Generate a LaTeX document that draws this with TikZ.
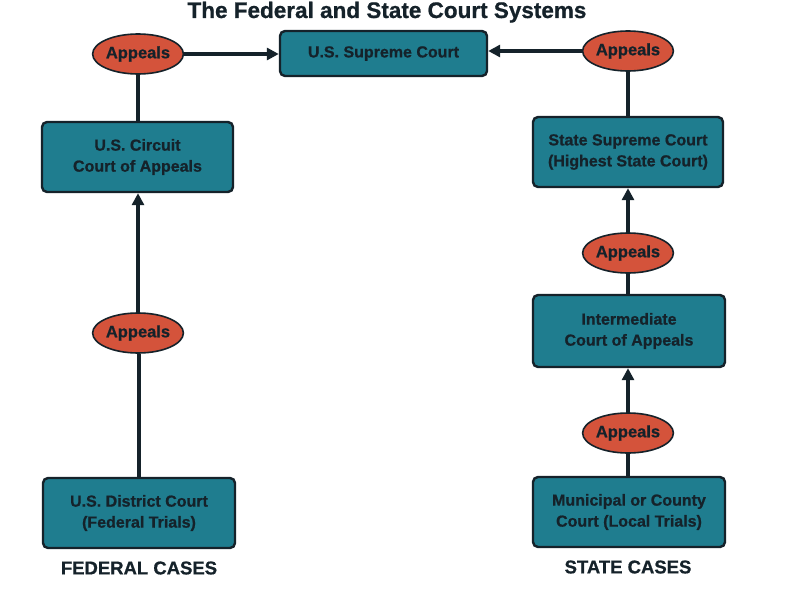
\documentclass[tikz,border=0pt]{standalone}
\usepackage{fontspec}
\setmainfont{Liberation Sans}[BoldFeatures={FakeBold=0.8}]
\usetikzlibrary{arrows.meta,shapes.geometric}
\definecolor{boxfill}{HTML}{1F7D8F}
\definecolor{ovalfill}{HTML}{D4533B}
\definecolor{ink}{HTML}{15222A}
\tikzset{
  court/.style={draw=ink, line width=2.4pt, fill=boxfill, rounded corners=5pt, align=center,
    inner sep=0pt, text=ink, font=\fontsize{16}{21}\selectfont\bfseries},
  appeal/.style={ellipse, draw=ink, line width=1.6pt, fill=ovalfill, inner sep=0pt,
    minimum width=82pt, minimum height=40pt, text=ink, font=\fontsize{16.5}{20}\selectfont\bfseries},
  link/.style={draw=ink, line width=3.5pt},
  arr/.style={link, -{Triangle[length=12pt,width=12pt]}},
  caption/.style={text=ink, font=\fontsize{18.5}{22}\selectfont\bfseries}
}
\begin{document}
\begin{tikzpicture}[x=1pt,y=-1pt]
\useasboundingbox[fill=white] (0,0) rectangle (789,602);
\node[anchor=base, text=ink, font=\fontsize{22.5}{26}\selectfont\bfseries] (title) at (387,18) {The Federal and State Court Systems};

\node[court, minimum width=207pt, minimum height=45pt] (sup) at (383.5,53.5) {U.S. Supreme Court};
\node[court, minimum width=191pt, minimum height=70pt] (circ) at (137.5,157) {U.S. Circuit\\Court of Appeals};
\node[court, minimum width=192pt, minimum height=70pt] (dist) at (139,513) {U.S. District Court\\(Federal Trials)};
\node[court, minimum width=190pt, minimum height=70pt] (ssup) at (628,152) {State Supreme Court\\(Highest State Court)};
\node[court, minimum width=192pt, minimum height=72pt] (inter) at (629,331) {Intermediate\\Court of Appeals};
\node[court, minimum width=192pt, minimum height=70pt] (muni) at (629,512) {Municipal or County\\Court (Local Trials)};

\node[appeal] (a1) at (138,54) {Appeals};
\node[appeal] (a2) at (628,51) {Appeals};
\node[appeal] (a3) at (138,333) {Appeals};
\node[appeal] (a4) at (628,253) {Appeals};
\node[appeal] (a5) at (628,433) {Appeals};

\node[caption] (fed) at (139,568) {FEDERAL CASES};
\node[caption] (st) at (628,567) {STATE CASES};

% federal side
\draw[arr] (a1.east) -- (sup.west |- a1.east);
\draw[link] (a1.south) -- (a1.south |- circ.north);
\draw[link] (dist.north) -- (dist.north |- a3.south);
\draw[arr] (a3.north) -- (a3.north |- circ.south);
% state side
\draw[arr] (a2.west) -- (sup.east |- a2.west);
\draw[link] (a2.south) -- (a2.south |- ssup.north);
\draw[arr] (a4.north) -- (a4.north |- ssup.south);
\draw[link] (inter.north -| a4.south) -- (a4.south);
\draw[arr] (a5.north) -- (a5.north |- inter.south);
\draw[link] (muni.north -| a5.south) -- (a5.south);
\end{tikzpicture}
\end{document}
